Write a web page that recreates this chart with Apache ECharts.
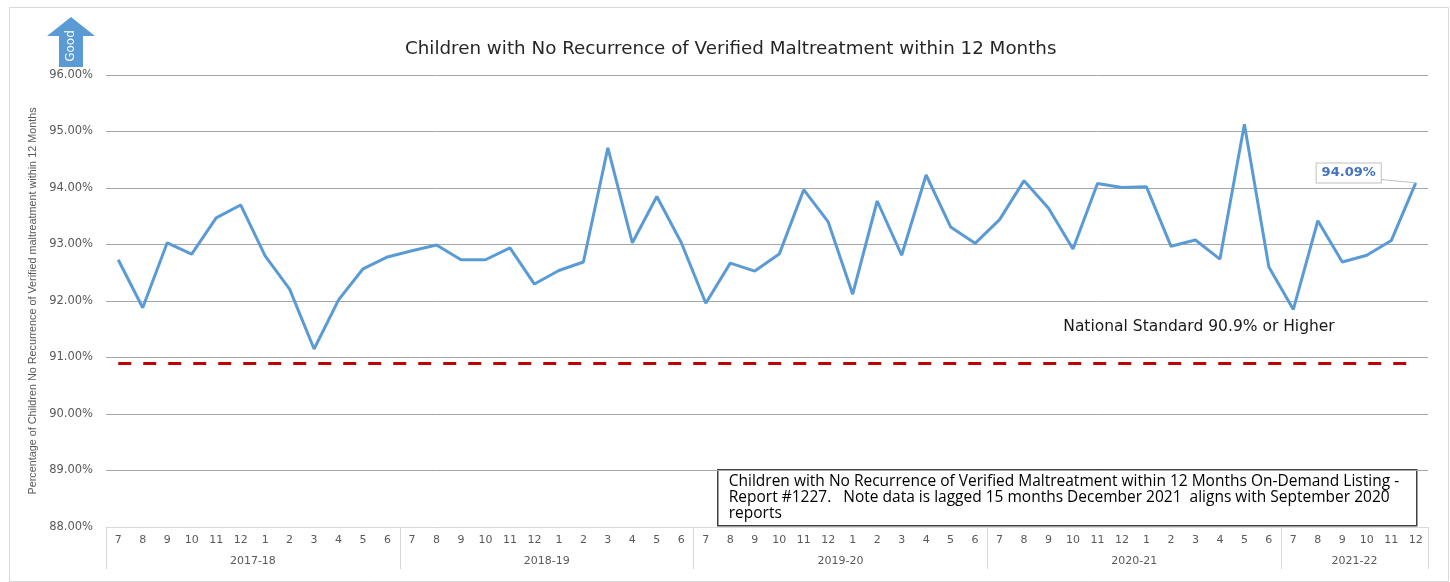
<!DOCTYPE html>
<html>
<head>
<meta charset="utf-8">
<script src="https://cdn.jsdelivr.net/npm/echarts@6/dist/echarts.min.js"></script>
<style>
  html, body { margin: 0; padding: 0; background: #fff; }
  #main { width: 1450px; height: 582px; }
</style>
</head>
<body>
<div id="main"></div>
<script>
// months (Jul..Jun fiscal years), 2017-18 through first half of 2021-22
const fiscalYears = ['2017-18', '2018-19', '2019-20', '2020-21', '2021-22'];
const monthsPerYear = [12, 12, 12, 12, 6];
const monthNames = ['7', '8', '9', '10', '11', '12', '1', '2', '3', '4', '5', '6'];

// percent of children with no recurrence
const noRecurrence = [
  92.73, 91.88, 93.03, 92.83, 93.47, 93.70, 92.80, 92.21, 91.15, 92.02, 92.57, 92.78,
  92.89, 92.99, 92.73, 92.73, 92.94, 92.30, 92.54, 92.69, 94.71, 93.03, 93.85, 93.03,
  91.96, 92.67, 92.53, 92.83, 93.97, 93.40, 92.12, 93.77, 92.81, 94.23, 93.31, 93.02,
  93.44, 94.13, 93.64, 92.92, 94.08, 94.01, 94.02, 92.97, 93.08, 92.74, 95.13, 92.60,
  91.85, 93.42, 92.69, 92.81, 93.07, 94.09
];
const nationalStandard = 90.9;
const yTicks = { min: 88, max: 96, step: 1 };

const titleText = 'Children with No Recurrence of Verified Maltreatment within 12 Months';
const yAxisName = 'Percentage of Children No Recurrence of Verified maltreatment within 12 Months';
const standardText = 'National Standard 90.9% or Higher';
const noteLines = [
  'Children with No Recurrence of Verified Maltreatment within 12 Months On-Demand Listing -',
  'Report #1227.   Note data is lagged 15 months December 2021  aligns with September 2020',
  'reports'
];

// month category labels
const monthLabels = [];
monthsPerYear.forEach(n => {
  for (let i = 0; i < n; i++) monthLabels.push(monthNames[i]);
});

// half-slot axis for the fiscal year row (labels in the middle of each group)
const yearSlots = new Array(monthLabels.length * 2 + 1).fill('');
const yearEdges = [0];
let pos = 0;
fiscalYears.forEach((fy, i) => {
  yearSlots[pos * 2 + monthsPerYear[i]] = fy;
  pos += monthsPerYear[i];
  yearEdges.push(pos * 2);
});

const lastIdx = noRecurrence.length - 1;
const seriesData = noRecurrence.map((v, i) => {
  if (i !== lastIdx) return v;
  return {
    value: v,
    label: {
      show: true,
      position: 'left',
      formatter: p => p.value.toFixed(2) + '%',
      color: '#4472c4',
      fontWeight: 'bold',
      fontSize: 13,
      fontFamily: 'DejaVu Sans',
      backgroundColor: '#fff',
      borderColor: '#bfbfbf',
      borderWidth: 1,
      padding: [3, 5, 3, 5]
    },
    labelLine: { show: true, lineStyle: { color: '#bfbfbf', width: 1 } }
  };
});

const chart = echarts.init(document.getElementById('main'));

const option = {
  animation: false,
  backgroundColor: '#fff',
  title: {
    text: titleText,
    left: 400,
    top: 35,
    textStyle: { fontFamily: 'DejaVu Sans', fontSize: 18.3, fontWeight: 'normal', color: '#262626' }
  },
  grid: { left: 106, right: 22, top: 75, bottom: 55 },
  xAxis: [
    {
      type: 'category',
      data: monthLabels,
      boundaryGap: true,
      axisLine: { lineStyle: { color: '#d9d9d9' } },
      axisTick: { show: false },
      axisLabel: { interval: 0, margin: 8, color: '#595959', fontSize: 11, fontFamily: 'DejaVu Sans' }
    },
    {
      type: 'category',
      data: yearSlots,
      boundaryGap: false,
      position: 'bottom',
      axisLine: { show: false },
      axisTick: {
        show: true,
        length: 42,
        interval: idx => yearEdges.includes(idx),
        lineStyle: { color: '#d9d9d9' }
      },
      axisLabel: {
        interval: (idx, val) => val !== '',
        margin: 29,
        color: '#595959',
        fontSize: 11,
        fontFamily: 'DejaVu Sans'
      },
      splitLine: { show: false }
    }
  ],
  yAxis: {
    type: 'value',
    min: yTicks.min,
    max: yTicks.max,
    interval: yTicks.step,
    name: yAxisName,
    nameLocation: 'middle',
    nameGap: 64,
    nameTextStyle: { fontFamily: 'Liberation Sans', fontSize: 10.8, color: '#595959' },
    axisLine: { show: false },
    axisTick: { show: false },
    axisLabel: {
      margin: 13,
      color: '#595959',
      fontSize: 11.5,
      fontFamily: 'DejaVu Sans',
      formatter: v => v.toFixed(2) + '%'
    },
    splitLine: { lineStyle: { color: '#a6a6a6', width: 1 } }
  },
  series: [
    {
      type: 'line',
      data: seriesData,
      showSymbol: true,
      symbol: 'circle',
      symbolSize: 0,
      lineStyle: { color: '#5b9bd5', width: 3 },
      itemStyle: { color: '#5b9bd5' },
      labelLayout: p => (p.dataIndex === lastIdx ? { dx: -30, dy: -10 } : {}),
      markLine: {
        silent: true,
        symbol: 'none',
        label: { show: false },
        lineStyle: { color: '#c00000', width: 3, type: [13, 12] },
        data: [[
          { xAxis: 0, yAxis: nationalStandard },
          { xAxis: lastIdx, yAxis: nationalStandard }
        ]]
      }
    }
  ],
  graphic: [
    {
      type: 'rect',
      left: 7, top: 5,
      shape: { width: 1439, height: 574 },
      style: { fill: 'none', stroke: '#d9d9d9', lineWidth: 1 },
      silent: true
    },
    {
      type: 'polygon',
      shape: { points: [[71, 17], [95, 36], [83, 36], [83, 67], [59, 67], [59, 36], [47, 36]] },
      style: { fill: '#5b9bd5' },
      silent: true
    },
    {
      type: 'text',
      x: 71, y: 46,
      rotation: Math.PI / 2,
      style: {
        text: 'Good', fill: '#fff', fontSize: 12, fontFamily: 'DejaVu Sans',
        align: 'center', verticalAlign: 'middle'
      },
      silent: true
    },
    {
      type: 'text',
      x: 1199, y: 327,
      style: {
        text: standardText, fill: '#1a1a1a', fontSize: 15.5, fontFamily: 'DejaVu Sans',
        align: 'center', verticalAlign: 'middle'
      },
      silent: true
    },
    {
      type: 'group',
      left: 717, top: 469,
      children: [
        {
          type: 'rect',
          shape: { x: 0, y: 0, width: 699, height: 56 },
          style: { fill: '#fff', stroke: '#404040', lineWidth: 1.5 }
        },
        {
          type: 'text',
          x: 11, y: 4,
          style: {
            text: noteLines.join('\n'), fill: '#000', fontSize: 15.5,
            fontFamily: 'Open Sans', lineHeight: 16
          }
        }
      ],
      silent: true
    }
  ]
};

chart.setOption(option);
</script>
</body>
</html>
